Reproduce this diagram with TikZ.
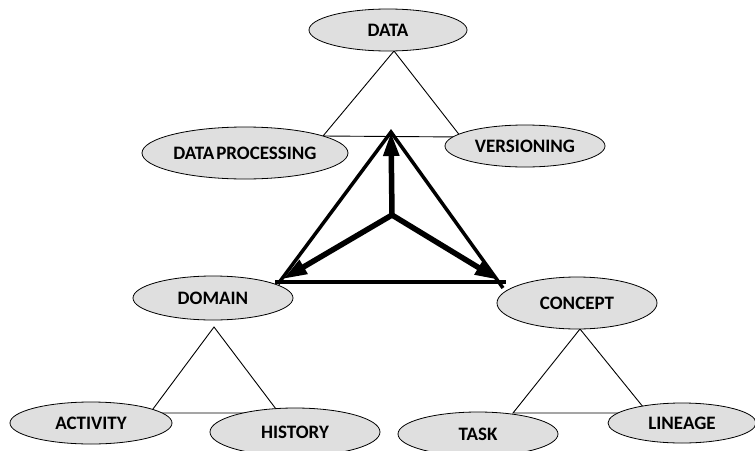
\documentclass[tikz,border=0pt]{standalone}
\usepackage{fontspec}
\setmainfont{Carlito}[BoldFont={Carlito Bold}]
\usetikzlibrary{shapes.geometric,arrows.meta}
\begin{document}
\begin{tikzpicture}[x=1pt,y=-1pt,
  oval/.style={ellipse,draw=black,line width=0.8pt,fill=gray!25,inner sep=0pt,
    font=\bfseries\fontsize{19}{22}\selectfont},
  triline/.style={line width=0.9pt,line join=miter},
  sideline/.style={line width=3.5pt},
  baseline/.style={line width=4pt},
  arr/.style={line width=5.5pt,-{Triangle[length=24pt,width=15pt]}}
]
\useasboundingbox (0,0) rectangle (755,450);
\clip (0,0) rectangle (755,450);

% corners of the small triangles
\coordinate (ta) at (394,51);
\coordinate (tl) at (323,136);
\coordinate (tr) at (461,137);
\coordinate (la) at (214,327);
\coordinate (ll) at (150,413);
\coordinate (lr) at (279,413);
\coordinate (ra) at (580,329);
\coordinate (rl) at (513,413);
\coordinate (rr) at (648,413);

\draw[triline] (ta) -- (tl) -- (tr) -- cycle;
\draw[triline] (la) -- (ll) -- (lr) -- cycle;
\draw[triline] (ra) -- (rl) -- (rr) -- cycle;

% ellipses
\node[oval,minimum width=158pt,minimum height=42pt] (data) at (388,30) {DATA};
\node[oval,minimum width=206pt,minimum height=52pt] (dp) at (245,153) {DATA\kern0.1em PROCESSING};
\node[oval,minimum width=160pt,minimum height=42pt] (ver) at (525,146) {VERSIONING};
\node[oval,minimum width=160pt,minimum height=44pt] (dom) at (213,298) {DOMAIN};
\node[oval,minimum width=160pt,minimum height=52pt] (con) at (577,303) {CONCEPT};
\node[oval,minimum width=162pt,minimum height=42pt] (act) at (91,423) {ACTIVITY};
\node[oval,minimum width=170pt,minimum height=48pt] (his) at (295,432) {HISTORY};
\node[oval,minimum width=160pt,minimum height=44pt] (task) at (478,434) {TASK};
\node[oval,minimum width=148pt,minimum height=40pt] (lin) at (682,423) {LINEAGE};

% central triangle
\coordinate (top) at (391,132);
\coordinate (bl) at (278,284);
\coordinate (br) at (503,288);
\coordinate (bs) at (275,282);
\coordinate (be) at (506,282);
\coordinate (ctr) at (392,215);
\coordinate (al) at (283,279);
\coordinate (ar) at (499,280);

\draw[sideline] (bl) -- (top) -- (br);
\draw[baseline] (bs) -- (be);
\draw[arr] (ctr) -- (top);
\draw[arr] (ctr) -- (al);
\draw[arr] (ctr) -- (ar);
\end{tikzpicture}
\end{document}
